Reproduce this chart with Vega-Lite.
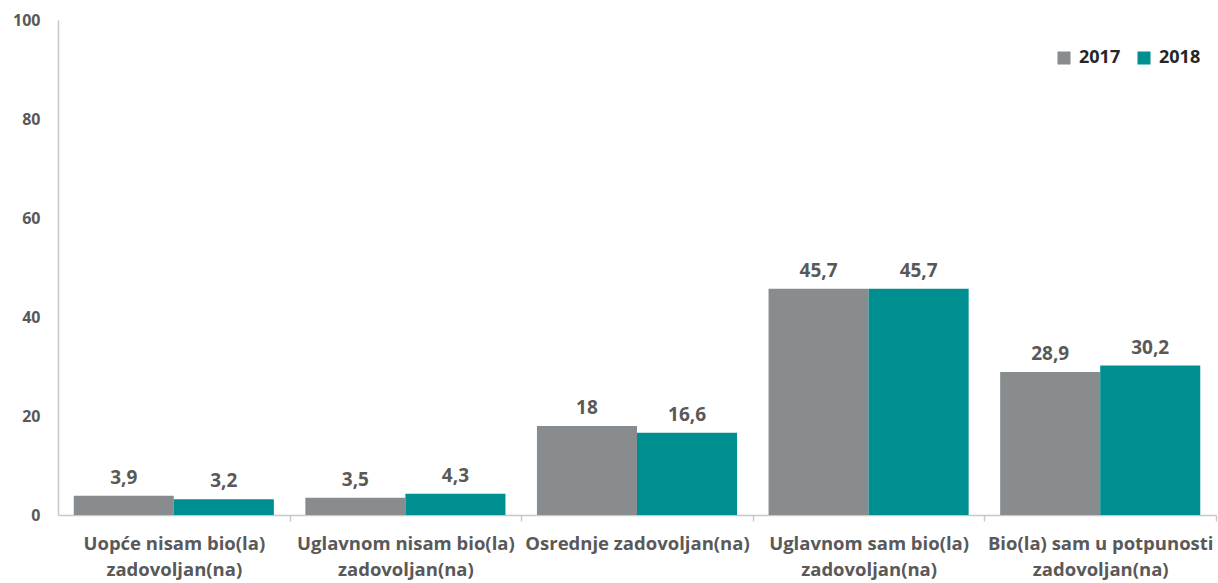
{
  "$schema": "https://vega.github.io/schema/vega-lite/v6.json",
  "width": 1218,
  "height": 583,
  "autosize": {"type": "fit", "contains": "padding"},
  "padding": {"left": 12, "top": 12, "right": 2, "bottom": 4},
  "background": "white",
  "config": {
    "view": {"stroke": null},
    "font": "Open Sans"
  },
  "data": {
    "values": [
      {"category": "Uopće nisam bio(la) zadovoljan(na)", "year": "2017", "value": 3.9},
      {"category": "Uopće nisam bio(la) zadovoljan(na)", "year": "2018", "value": 3.2},
      {"category": "Uglavnom nisam bio(la) zadovoljan(na)", "year": "2017", "value": 3.5},
      {"category": "Uglavnom nisam bio(la) zadovoljan(na)", "year": "2018", "value": 4.3},
      {"category": "Osrednje zadovoljan(na)", "year": "2017", "value": 18},
      {"category": "Osrednje zadovoljan(na)", "year": "2018", "value": 16.6},
      {"category": "Uglavnom sam bio(la) zadovoljan(na)", "year": "2017", "value": 45.7},
      {"category": "Uglavnom sam bio(la) zadovoljan(na)", "year": "2018", "value": 45.7},
      {"category": "Bio(la) sam u potpunosti zadovoljan(na)", "year": "2017", "value": 28.9},
      {"category": "Bio(la) sam u potpunosti zadovoljan(na)", "year": "2018", "value": 30.2}
    ]
  },
  "encoding": {
    "x": {
      "field": "category",
      "type": "nominal",
      "sort": null,
      "scale": {"paddingInner": 0.136, "paddingOuter": 0.068},
      "axis": {
        "title": null,
        "orient": "bottom",
        "labelAngle": 0,
        "labelFont": "Open Sans",
        "labelFontSize": 18.5,
        "labelFontWeight": "bold",
        "labelColor": "#595959",
        "labelLineHeight": 26,
        "labelPadding": 13,
        "labelLimit": 260,
        "labelExpr": "datum.value == 'Osrednje zadovoljan(na)' ? datum.value : [substring(datum.value, 0, length(datum.value) - 15), 'zadovoljan(na)']",
        "domainColor": "#c8c8c8",
        "domainWidth": 1.5,
        "tickColor": "#c8c8c8",
        "tickOffset": 115.8,
        "labelOffset": -115.8,
        "tickSize": 6,
        "tickWidth": 1.5
      }
    },
    "xOffset": {"field": "year", "type": "nominal", "sort": ["2017", "2018"]},
    "y": {
      "field": "value",
      "type": "quantitative",
      "scale": {"domain": [0, 100]},
      "axis": {
        "title": null,
        "values": [0, 20, 40, 60, 80, 100],
        "grid": false,
        "ticks": false,
        "labelFont": "Open Sans",
        "labelFontSize": 16,
        "labelFontWeight": "bold",
        "labelColor": "#595959",
        "labelPadding": 18,
        "domainColor": "#c8c8c8",
        "domainWidth": 1.5
      }
    }
  },
  "layer": [
    {
      "mark": {"type": "bar"},
      "encoding": {
        "color": {
          "field": "year",
          "type": "nominal",
          "scale": {"domain": ["2017", "2018"], "range": ["#898c8e", "#008f91"]},
          "legend": {
            "title": null,
            "orient": "none",
            "direction": "horizontal",
            "legendX": 997,
            "legendY": 29,
            "symbolType": "square",
            "symbolSize": 170,
            "labelFont": "Open Sans",
            "labelFontSize": 18,
            "labelFontWeight": "bold",
            "labelColor": "#262626",
            "columnPadding": 14,
            "labelOffset": 6
          }
        }
      }
    },
    {
      "mark": {"type": "text", "baseline": "bottom", "dy": -8, "fontSize": 19, "fontWeight": "bold", "color": "#595959", "font": "Open Sans",
        "text": {"expr": "replace(format(datum.value, '.3~g'), '.', ',')"}},
      "encoding": {}
    }
  ]
}
